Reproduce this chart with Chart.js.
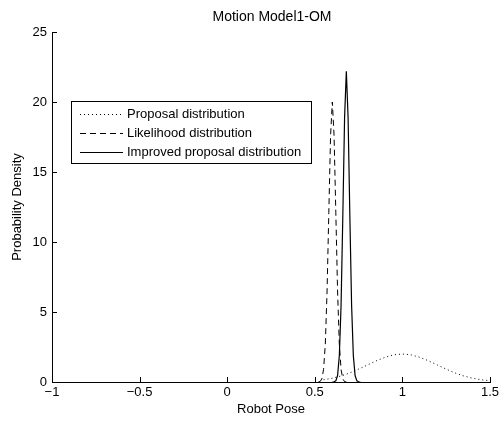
<!DOCTYPE html>
<html>
<head>
<meta charset="utf-8">
<script src="https://cdn.jsdelivr.net/npm/chart.js@4.4.0/dist/chart.umd.min.js"></script>
<style>
html,body{margin:0;padding:0;background:#fff;}
#wrap{width:503px;height:422px;}
</style>
</head>
<body>
<div id="wrap"><canvas id="c" width="503" height="422"></canvas></div>
<script>
const chartTitle = 'Motion Model1-OM';
const xTitle = 'Robot Pose';
const yTitle = 'Probability Density';
const xTickValues = [-1, -0.5, 0, 0.5, 1, 1.5];
const xTickLabels = ['\u22121', '\u22120.5', '0', '0.5', '1', '1.5'];
const yTickValues = [0, 5, 10, 15, 20, 25];
const yTickLabels = ['0', '5', '10', '15', '20', '25'];
const seriesNames = ['Proposal distribution', 'Likelihood distribution', 'Improved proposal distribution'];

const proposalX = [0.55, 0.6, 0.65, 0.7, 0.75, 0.8, 0.85, 0.9, 0.95, 1.0, 1.05, 1.1, 1.15, 1.2, 1.25, 1.3, 1.35, 1.4, 1.45, 1.5];
const proposalY = [0.16, 0.27, 0.43, 0.65, 0.92, 1.21, 1.51, 1.76, 1.94, 2.0, 1.94, 1.76, 1.51, 1.21, 0.92, 0.65, 0.43, 0.27, 0.16, 0.09];

const likelihoodX = [0.52, 0.53, 0.54, 0.55, 0.56, 0.57, 0.58, 0.59, 0.60, 0.61, 0.62, 0.63, 0.64, 0.65, 0.66, 0.67, 0.68];
const likelihoodY = [0.0, 0.03, 0.22, 0.88, 2.7, 6.5, 12.1, 17.6, 20.0, 17.6, 12.1, 6.5, 2.7, 0.88, 0.22, 0.03, 0.0];

const improvedX = [0.60, 0.61, 0.62, 0.63, 0.64, 0.65, 0.66, 0.67, 0.68, 0.69, 0.70, 0.71, 0.72, 0.73, 0.74, 0.75, 0.76];
const improvedY = [0.0, 0.02, 0.08, 0.46, 1.87, 5.5, 11.9, 18.9, 22.2, 18.9, 11.9, 5.5, 1.87, 0.46, 0.08, 0.02, 0.0];

const FONT = '"Liberation Sans", Arial, Helvetica, sans-serif';

function pts(xs, ys) { return xs.map((x, i) => ({x: x, y: ys[i]})); }

const inwardTicks = {
  id: 'inwardTicks',
  afterDraw(chart) {
    const ctx = chart.ctx, a = chart.chartArea;
    const xs = chart.scales.x, ys = chart.scales.y;
    ctx.save();
    ctx.strokeStyle = '#000';
    ctx.lineWidth = 1;
    ctx.beginPath();
    xTickValues.forEach(v => {
      const p = Math.round(xs.getPixelForValue(v)) + 0.5;
      ctx.moveTo(p, a.bottom); ctx.lineTo(p, a.bottom - 5);
    });
    yTickValues.forEach(v => {
      const p = Math.round(ys.getPixelForValue(v)) + 0.5;
      ctx.moveTo(a.left, p); ctx.lineTo(a.left + 5, p);
    });
    ctx.stroke();
    // title
    ctx.fillStyle = '#000';
    ctx.font = '14px ' + FONT;
    ctx.textAlign = 'center';
    ctx.textBaseline = 'middle';
    ctx.fillText(chartTitle, (a.left + a.right) / 2 + 1, 17);
    // legend
    const lx = a.left + 19, ly = a.top + 69, lw = 240, lh = 62;
    ctx.fillStyle = '#fff';
    ctx.fillRect(lx, ly, lw, lh);
    ctx.strokeRect(lx + 0.5, ly + 0.5, lw, lh);
    ctx.font = '13px ' + FONT;
    ctx.textAlign = 'left';
    chart.data.datasets.forEach((ds, i) => {
      const cy = ly + 13 + i * 19;
      ctx.beginPath();
      ctx.setLineDash(ds.borderDash || []);
      ctx.moveTo(lx + 9, cy + 0.5); ctx.lineTo(lx + 52, cy + 0.5);
      ctx.stroke();
      ctx.setLineDash([]);
      ctx.fillStyle = '#000';
      ctx.fillText(ds.label, lx + 56, cy);
    });
    ctx.restore();
  }
};

new Chart(document.getElementById('c'), {
  type: 'line',
  data: {
    datasets: [
      {label: seriesNames[0], data: pts(proposalX, proposalY), borderColor: '#000', borderWidth: 1, borderDash: [1, 3], pointRadius: 0, tension: 0, fill: false},
      {label: seriesNames[1], data: pts(likelihoodX, likelihoodY), borderColor: '#000', borderWidth: 1, borderDash: [6, 4], pointRadius: 0, tension: 0, fill: false},
      {label: seriesNames[2], data: pts(improvedX, improvedY), borderColor: '#000', borderWidth: 1.2, pointRadius: 0, tension: 0, fill: false}
    ]
  },
  options: {
    responsive: false,
    animation: false,
    devicePixelRatio: 1,
    layout: {padding: {top: 32, right: 13, left: 0, bottom: 0}},
    plugins: {legend: {display: false}, tooltip: {enabled: false}, title: {display: false}},
    scales: {
      x: {
        type: 'linear', min: -1, max: 1.5,
        afterBuildTicks: s => { s.ticks = xTickValues.map(v => ({value: v})); },
        afterFit: s => { s.height = 40; },
        grid: {display: false, drawTicks: false},
        border: {display: true, color: '#000', width: 1},
        ticks: {color: '#000', font: {family: FONT, size: 13}, padding: 3, maxRotation: 0,
                callback: (v) => xTickLabels[xTickValues.indexOf(v)]},
        title: {display: true, text: xTitle, color: '#000', font: {family: FONT, size: 13}, padding: {top: 0, bottom: 5}}
      },
      y: {
        type: 'linear', min: 0, max: 25,
        afterBuildTicks: s => { s.ticks = yTickValues.map(v => ({value: v})); },
        afterFit: s => { s.width = 52; },
        grid: {display: false, drawTicks: false},
        border: {display: true, color: '#000', width: 1},
        ticks: {color: '#000', font: {family: FONT, size: 13}, padding: 5,
                callback: (v) => yTickLabels[yTickValues.indexOf(v)]},
        title: {display: true, text: yTitle, color: '#000', font: {family: FONT, size: 13}, padding: {top: 10, bottom: 0}}
      }
    }
  },
  plugins: [inwardTicks]
});
</script>
</body>
</html>
